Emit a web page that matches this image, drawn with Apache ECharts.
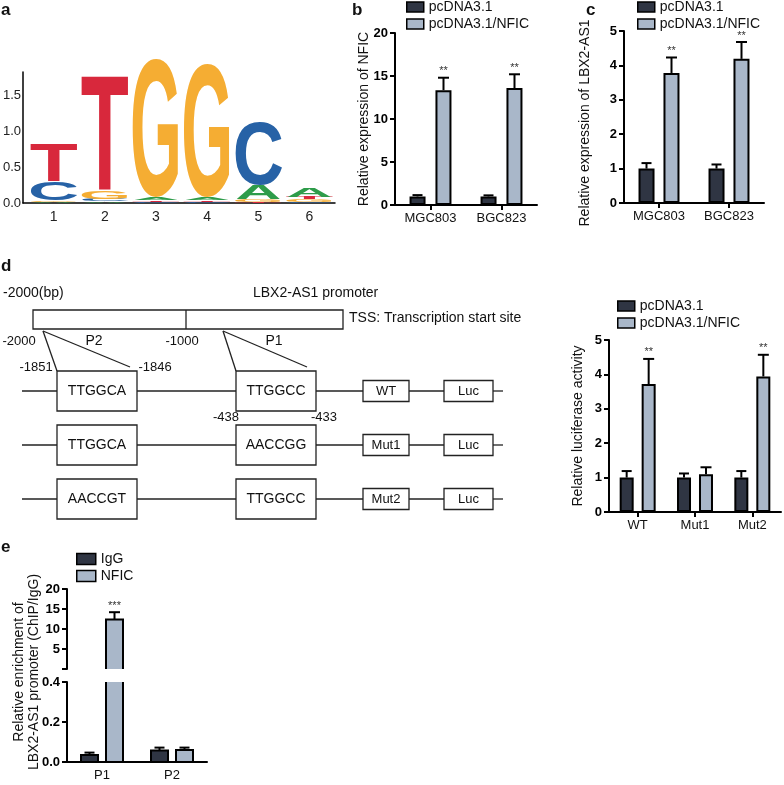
<!DOCTYPE html>
<html><head><meta charset="utf-8">
<script src="https://cdn.jsdelivr.net/npm/echarts@6/dist/echarts.min.js"></script>
<style>html,body{margin:0;padding:0;background:#fff}#chart{width:784px;height:785px}</style>
</head><body><div id="chart"></div>
<script>
// ---------- DATA ----------
// a: sequence logo (bits per letter per position)
const logoPositions = [1, 2, 3, 4, 5, 6];
const logoLetters = ['A', 'C', 'G', 'T'];
const logoA = [0.02, 0.02, 0.03, 0.03, 0.20, 0.12];
const logoC = [0.26, 0.04, 0.02, 0.02, 0.88, 0.02];
const logoG = [0.02, 0.10, 1.93, 1.86, 0.03, 0.03];
const logoT = [0.54, 1.62, 0.02, 0.02, 0.02, 0.03];
const logoYTicks = [0, 0.5, 1.0, 1.5];

// b: Relative expression of NFIC
const bCategories = ['MGC803', 'BGC823'];
const bCtrl = [1.0, 1.0];
const bCtrlErr = [0.15, 0.12];
const bNfic = [13.35, 13.6];
const bNficErr = [1.45, 1.6];
const bSig = ['**', '**'];

// c: Relative expression of LBX2-AS1
const cCategories = ['MGC803', 'BGC823'];
const cCtrl = [1.0, 1.0];
const cCtrlErr = [0.16, 0.12];
const cNfic = [3.78, 4.19];
const cNficErr = [0.45, 0.49];
const cSig = ['**', '**'];

// d: Relative luciferase activity
const dCategories = ['WT', 'Mut1', 'Mut2'];
const dCtrl = [1.0, 1.0, 1.0];
const dCtrlErr = [0.19, 0.12, 0.19];
const dNfic = [3.72, 1.1, 3.94];
const dNficErr = [0.73, 0.2, 0.63];
const dSig = ['**', '', '**'];

// e: ChIP enrichment
const eCategories = ['P1', 'P2'];
const eIgG = [0.035, 0.058];
const eIgGErr = [0.012, 0.014];
const eNfic = [12.4, 0.06];
const eNficErr = [1.8, 0.012];
const eSig = ['***', ''];

// ---------- STYLE ----------
const FONT = "'Liberation Sans', Arial, Helvetica, sans-serif";
const DARK = '#2f3543';
const LIGHT = '#a9b7c9';
const LOGO_COLORS = {A: '#2e9c4a', C: '#2762a6', G: '#f5ad33', T: '#d8283c'};
const LOGO_INK = {A: 0.72, C: 0.65, G: 0.69, T: 0.585};

// ---------- LOGO DATA (stacked, smallest at bottom) ----------
const logoHeights = {A: logoA, C: logoC, G: logoG, T: logoT};
const logoData = [];
const logoLetterOf = [];
logoPositions.forEach((p, i) => {
  const stack = logoLetters.map(L => [L, logoHeights[L][i]]).sort((a, b) => a[1] - b[1]);
  let y0 = 0;
  stack.forEach(([L, h]) => { logoData.push([p, y0, y0 + h]); logoLetterOf.push(L); y0 += h; });
});

function renderLogo(params, api) {
  const L = logoLetterOf[params.dataIndex];
  const x = api.value(0), b = api.value(1), t = api.value(2);
  const p0 = api.coord([x, b]), p1 = api.coord([x, t]);
  const h = p0[1] - p1[1];
  if (h < 0.4) return null;
  const colW = api.size([1, 0])[0] * 0.9;
  const F = 40;
  const sy = h / (0.716 * F);
  return {
    type: 'text', x: p0[0], y: (p0[1] + p1[1]) / 2 + 0.066 * F * sy,
    scaleX: colW / (LOGO_INK[L] * F), scaleY: sy,
    style: {text: L, fontSize: F, fontFamily: FONT, fontWeight: 'bold', fill: LOGO_COLORS[L], align: 'center', verticalAlign: 'middle'}
  };
}

// ---------- helpers ----------
function catX(gi, cats, ticks, show) {
  return {
    type: 'category', gridIndex: gi, data: cats, show: show !== false, boundaryGap: true,
    axisLine: {lineStyle: {color: '#000', width: 2}},
    axisTick: {show: ticks, alignWithLabel: true, length: 5, lineStyle: {color: '#000', width: 2}},
    axisLabel: {color: '#111', fontSize: 13, fontFamily: FONT, margin: 7},
    splitLine: {show: false}
  };
}
function valY(gi, min, max, interval, name, nameGap, digits) {
  return {
    type: 'value', gridIndex: gi, min: min, max: max, interval: interval,
    name: name, nameLocation: 'middle', nameGap: nameGap, nameRotate: 90, nameMoveOverlap: false,
    nameTextStyle: {color: '#111', fontSize: 14, fontFamily: FONT},
    axisLine: {show: true, lineStyle: {color: '#000', width: 2}},
    axisTick: {show: true, length: 5, lineStyle: {color: '#000', width: 2}},
    axisLabel: {color: '#000', fontSize: 13, fontWeight: 'bold', fontFamily: FONT, margin: 7,
      formatter: v => digits ? v.toFixed(digits) : String(v)},
    splitLine: {show: false}
  };
}
function barSeries(gi, name, data, color, barW, gapPct) {
  return {
    type: 'bar', name: name, xAxisIndex: gi, yAxisIndex: gi, data: data,
    barWidth: barW, barGap: gapPct, silent: true,
    itemStyle: {color: color, borderColor: '#000', borderWidth: 2}
  };
}
function errSeries(gi, means, errs, sIdx, barW, gap, sigs, capW, lo, hi) {
  return {
    type: 'custom', name: 'err' + gi + '_' + sIdx, xAxisIndex: gi, yAxisIndex: gi, z: 10, silent: true,
    data: means.map((m, i) => [i, m, errs[i]]),
    renderItem(params, api) {
      const i = api.value(0), m = api.value(1), e = api.value(2);
      if (m < lo || m + e > hi) return null;
      const off = (sIdx === 0 ? -1 : 1) * (barW + gap) / 2;
      const p0 = api.coord([i, m]), p1 = api.coord([i, m + e]);
      const x = p0[0] + off;
      const ch = [
        {type: 'line', shape: {x1: x, y1: p0[1], x2: x, y2: p1[1]}, style: {stroke: '#000', lineWidth: 2}},
        {type: 'line', shape: {x1: x - capW / 2, y1: p1[1], x2: x + capW / 2, y2: p1[1]}, style: {stroke: '#000', lineWidth: 2}}
      ];
      const s = sigs && sigs[params.dataIndex];
      if (s) ch.push({type: 'text', x: x, y: p1[1] - 1, style: {text: s, fontSize: 11, fontFamily: FONT, fill: '#333', align: 'center', verticalAlign: 'bottom'}});
      return {type: 'group', children: ch};
    }
  };
}
// e bars: custom so that broken-axis bars are open at the break
function eBarSeries(gi, name, vals, sIdx, color, barW, gap, isTop) {
  return {
    type: 'custom', name: name, xAxisIndex: gi, yAxisIndex: gi, z: 5, silent: true,
    itemStyle: {color: color, borderColor: '#000', borderWidth: 2},
    data: vals.map((v, i) => [i, v]),
    renderItem(params, api) {
      const i = api.value(0), v = api.value(1);
      const cs = params.coordSys;
      const off = (sIdx === 0 ? -1 : 1) * (barW + gap) / 2;
      const pT = api.coord([i, v]), pB = api.coord([i, 0]);
      let yT = pT[1]; const yB = pB[1];
      const clipTop = yT < cs.y;
      if (clipTop) yT = cs.y;
      if (yB - yT < 1) return null;
      const x0 = pB[0] + off - barW / 2, x1 = pB[0] + off + barW / 2;
      let pts;
      if (isTop) pts = [[x0, yB], [x0, yT], [x1, yT], [x1, yB]];
      else if (clipTop) pts = [[x0, yT], [x0, yB], [x1, yB], [x1, yT]];
      else pts = [[x0, yB], [x0, yT], [x1, yT], [x1, yB], [x0, yB]];
      return {type: 'group', children: [
        {type: 'rect', shape: {x: x0, y: yT, width: barW, height: yB - yT}, style: {fill: color}},
        {type: 'polyline', shape: {points: pts}, style: {stroke: '#000', lineWidth: 2, fill: null}}
      ]};
    }
  };
}
function legendFor(left, top, names, colors, iw, ih) {
  return {
    left: left, top: top, orient: 'vertical', padding: 0, itemGap: 3, itemWidth: iw, itemHeight: ih,
    selectedMode: false, icon: 'rect',
    textStyle: {color: '#111', fontSize: 14, fontFamily: FONT},
    data: names.map((n, k) => ({name: n, icon: 'rect', itemStyle: {color: colors[k], borderColor: '#000', borderWidth: 1.5}}))
  };
}

// ---------- graphic: panel labels, schematic ----------
const gfx = [];
function gText(x, y, text, size, align, bold) {
  gfx.push({type: 'text', x: x, y: y, silent: true, style: {text: text, fontSize: size, fontFamily: FONT, fontWeight: bold ? 'bold' : 'normal', fill: '#111', align: align || 'center', verticalAlign: 'middle'}});
}
function gLine(x1, y1, x2, y2) {
  gfx.push({type: 'line', silent: true, shape: {x1, y1, x2, y2}, style: {stroke: '#222', lineWidth: 1.3}});
}
function gRect(x, y, w, h) {
  gfx.push({type: 'rect', silent: true, shape: {x: x, y: y, width: w, height: h}, style: {fill: '#fff', stroke: '#222', lineWidth: 1.3}});
}
gText(1, 10, 'a', 17, 'left', true);
gText(352, 10, 'b', 17, 'left', true);
gText(586, 10, 'c', 17, 'left', true);
gText(1, 266, 'd', 17, 'left', true);
gText(1, 547, 'e', 17, 'left', true);

// schematic of panel d
gText(3, 293, '-2000(bp)', 14, 'left');
gText(253, 293, 'LBX2-AS1 promoter', 14, 'left');
gRect(33, 310, 310, 19);
gLine(186, 310, 186, 329);
gText(349, 318, 'TSS: Transcription start site', 14, 'left');
gText(19, 341, '-2000', 13);
gText(94, 341, 'P2', 14);
gText(182, 341, '-1000', 13);
gText(274, 341, 'P1', 14);
gLine(43, 331, 57, 371); gLine(43, 331, 130, 367);
gLine(223, 331, 236, 371); gLine(223, 331, 307, 367);
gText(36, 367, '-1851', 13);
gText(155, 367, '-1846', 13);
gText(226, 417, '-438', 13);
gText(324, 417, '-433', 13);
const rowY = [391, 445, 499];
const rowP2 = ['TTGGCA', 'TTGGCA', 'AACCGT'];
const rowP1 = ['TTGGCC', 'AACCGG', 'TTGGCC'];
const rowName = ['WT', 'Mut1', 'Mut2'];
rowY.forEach((y, k) => {
  gLine(22, y, 57, y); gLine(137, y, 236, y); gLine(316, y, 363, y); gLine(409, y, 444, y); gLine(493, y, 503, y);
  gRect(57, y - 20, 80, 40); gText(97, y, rowP2[k], 14);
  gRect(236, y - 20, 80, 40); gText(276, y, rowP1[k], 14);
  gRect(363, y - 10.5, 46, 21); gText(386, y, rowName[k], 13);
  gRect(444, y - 10.5, 49, 21); gText(468.5, y, 'Luc', 13);
});
// c y-axis title (placed below the panel letter)
gfx.push({type: 'text', x: 585, y: 123, rotation: Math.PI / 2, silent: true,
  style: {text: 'Relative expression of LBX2-AS1', fontSize: 14, fontFamily: FONT, fill: '#111', align: 'center', verticalAlign: 'middle'}});
// e y-axis title (spans broken axis)
gfx.push({type: 'text', x: 27, y: 672, rotation: Math.PI / 2, silent: true,
  style: {text: 'Relative enrichment of\nLBX2-AS1 promoter (ChIP/IgG)', fontSize: 14, lineHeight: 15, fontFamily: FONT, fill: '#111', align: 'center', verticalAlign: 'middle'}});

// ---------- OPTION ----------
const grids = [
  {left: 23, top: 72, width: 312, height: 131},   // a
  {left: 395, top: 33, width: 142, height: 172},  // b
  {left: 624, top: 31, width: 140, height: 172},  // c
  {left: 609, top: 340, width: 172, height: 172}, // d
  {left: 67, top: 589, width: 140, height: 80},   // e top
  {left: 67, top: 682, width: 140, height: 80}    // e bottom
].map(g => Object.assign({containLabel: false, outerBoundsMode: 'none'}, g));

const xAxes = [
  {type: 'value', gridIndex: 0, min: 0.4, max: 6.5,
    axisLine: {show: true, lineStyle: {color: '#000', width: 1.5}}, axisTick: {show: false},
    axisLabel: {customValues: logoPositions, color: '#222', fontSize: 14, fontFamily: FONT, margin: 7},
    splitLine: {show: false}},
  catX(1, bCategories, true),
  catX(2, cCategories, true),
  catX(3, dCategories, true),
  catX(4, eCategories, false, false),
  catX(5, eCategories, false)
];
const yA = {type: 'value', gridIndex: 0, min: 0, max: 1.82,
  axisLine: {show: true, lineStyle: {color: '#000', width: 1.5}},
  axisTick: {show: false},
  axisLabel: {customValues: logoYTicks, color: '#222', fontSize: 13, fontFamily: FONT, margin: 2, formatter: v => v.toFixed(1)},
  splitLine: {show: false}};
const yETop = valY(4, 0, 20, 5, '', 0, 0);
yETop.axisLabel.customValues = [5, 10, 15, 20];
yETop.axisTick.customValues = [0, 5, 10, 15, 20];
const yAxes = [
  yA,
  valY(1, 0, 20, 5, 'Relative expression of NFIC', 24, 0),
  valY(2, 0, 5, 1, '', 0, 0),
  valY(3, 0, 5, 1, 'Relative luciferase activity', 24, 0),
  yETop,
  valY(5, 0, 0.4, 0.2, '', 0, 1)
];

const series = [
  {type: 'custom', name: 'logo', xAxisIndex: 0, yAxisIndex: 0, silent: true, data: logoData, renderItem: renderLogo},
  // b
  barSeries(1, 'pcDNA3.1', bCtrl, DARK, 16, '62%'),
  barSeries(1, 'pcDNA3.1/NFIC', bNfic, LIGHT, 16, '62%'),
  errSeries(1, bCtrl, bCtrlErr, 0, 16, 10, null, 10, 0, 20),
  errSeries(1, bNfic, bNficErr, 1, 16, 10, bSig, 11, 0, 20),
  // c
  barSeries(2, 'pcDNA3.1', cCtrl, DARK, 16, '56%'),
  barSeries(2, 'pcDNA3.1/NFIC', cNfic, LIGHT, 16, '56%'),
  errSeries(2, cCtrl, cCtrlErr, 0, 16, 9, null, 10, 0, 5),
  errSeries(2, cNfic, cNficErr, 1, 16, 9, cSig, 11, 0, 5),
  // d
  barSeries(3, 'pcDNA3.1', dCtrl, DARK, 14, '57%'),
  barSeries(3, 'pcDNA3.1/NFIC', dNfic, LIGHT, 14, '57%'),
  errSeries(3, dCtrl, dCtrlErr, 0, 14, 8, null, 10, 0, 5),
  errSeries(3, dNfic, dNficErr, 1, 14, 8, dSig, 11, 0, 5),
  // e top (broken axis upper segment)
  eBarSeries(4, 'IgG', eIgG, 0, DARK, 17, 8, true),
  eBarSeries(4, 'NFIC', eNfic, 1, LIGHT, 17, 8, true),
  errSeries(4, eNfic, eNficErr, 1, 17, 8, eSig, 11, 1, 20),
  // e bottom
  eBarSeries(5, 'IgG', eIgG, 0, DARK, 17, 8, false),
  eBarSeries(5, 'NFIC', eNfic, 1, LIGHT, 17, 8, false),
  errSeries(5, eIgG, eIgGErr, 0, 17, 8, null, 10, 0, 0.4),
  errSeries(5, eNfic, eNficErr, 1, 17, 8, null, 10, 0, 0.4)
];

const option = {
  backgroundColor: '#fff',
  animation: false,
  textStyle: {fontFamily: FONT},
  grid: grids,
  xAxis: xAxes,
  yAxis: yAxes,
  legend: [
    legendFor(406, 0, ['pcDNA3.1', 'pcDNA3.1/NFIC'], [DARK, LIGHT], 17, 10),
    legendFor(637, 0, ['pcDNA3.1', 'pcDNA3.1/NFIC'], [DARK, LIGHT], 17, 10),
    legendFor(617, 299, ['pcDNA3.1', 'pcDNA3.1/NFIC'], [DARK, LIGHT], 17, 10),
    legendFor(76, 552, ['IgG', 'NFIC'], [DARK, LIGHT], 19, 11)
  ],
  graphic: gfx,
  series: series
};
const chart = echarts.init(document.getElementById('chart'), null, {renderer: 'canvas'});
chart.setOption(option);
</script></body></html>
